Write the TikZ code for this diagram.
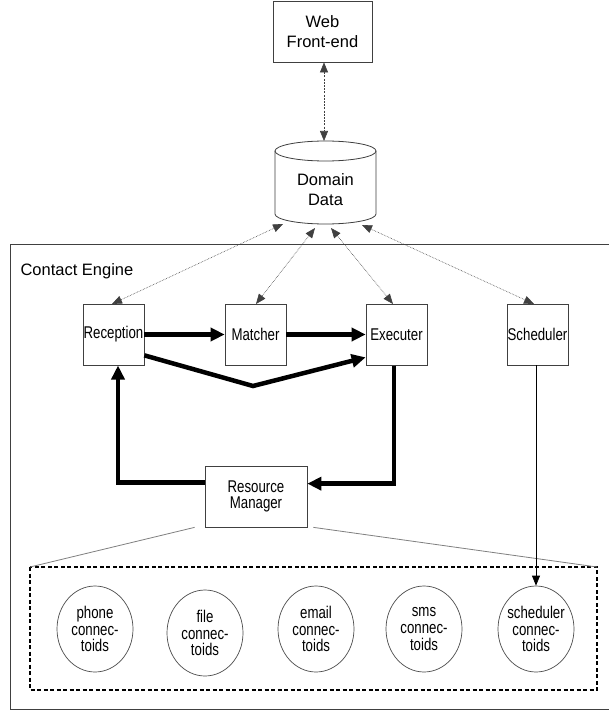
\documentclass[tikz,border=0pt]{standalone}
\usepackage{fontspec}
\setmainfont{Liberation Sans}
\newfontfamily\narrowfont[FakeStretch=0.78]{Liberation Sans}
\usetikzlibrary{arrows.meta,shapes.geometric,calc}
\begin{document}
\begin{tikzpicture}[x=1pt,y=-1pt,
  bigfont/.style={font=\fontsize{16.5}{20}\selectfont},
  smallfont/.style={font=\narrowfont\fontsize{17}{16.8}\selectfont},
  box/.style={draw=black!75, line width=0.7pt, minimum width=61pt, minimum height=61pt, inner sep=0pt, smallfont},
  conn/.style={draw=black!70, line width=0.7pt, ellipse, minimum width=76pt, minimum height=86pt, inner sep=0pt},
  conntext/.style={align=center, inner sep=0pt, smallfont},
  dotarrow/.style={black!75, line width=0.6pt, densely dotted, {Triangle[length=10pt,width=8pt]}-{Triangle[length=10pt,width=8pt]}},
  flow/.style={line width=4.5pt, -{Triangle[length=14pt,width=13pt]}},
  thinarrow/.style={line width=0.7pt, -{Triangle[length=10pt,width=8pt]}},
  greyline/.style={gray, line width=0.8pt},
  groupbox/.style={line width=1.6pt, dash pattern=on 4pt off 2.5pt}
]
\useasboundingbox (0,0) rectangle (608,714);
\fill[white] (0,0) rectangle (608,714);

% outer Contact Engine frame
\draw[black!75, line width=1pt] (10,244) rectangle (614,709);
\node[bigfont, anchor=west] (ce) at (17,271) {Contact Engine};

% Web front-end
\node[draw=black!75, line width=0.8pt, minimum width=99pt, minimum height=61pt, inner sep=0pt, align=center, bigfont] (web) at (322.5,31.5) {Web\\Front-end};

% Domain data cylinder
\draw[black!75, line width=0.8pt, fill=white] (275,151) -- (275,214) arc[start angle=180, end angle=0, x radius=50.5, y radius=10] -- (376,151);
\draw[black!75, line width=0.8pt] (325.5,151) ellipse[x radius=50.5, y radius=10];
\node[bigfont, align=center] (dd) at (325.5,190) {Domain\\Data};
\coordinate (ddtop) at (324,141);
\coordinate (db1) at (283,224);
\coordinate (db2) at (315,228);
\coordinate (db3) at (331,228);
\coordinate (db4) at (362,225);

% components
\node[box] (rec) at (113.5,334.5) {Reception};
\node[box] (mat) at (255.5,334.5) {Matcher};
\node[box] (exe) at (396.5,334.5) {Executer};
\node[box] (sch) at (537.5,334.5) {Scheduler};
\node[box, minimum width=102pt, align=center] (rm) at (256,496.5) {Resource\\Manager};

% dotted links
\draw[dotarrow, dash pattern=on 2pt off 1.2pt] (web.south -| ddtop) -- (ddtop);
\coordinate (rt) at (112,304);
\coordinate (mt) at (256,304);
\coordinate (et) at (393,304);
\coordinate (st) at (534,304);
\draw[dotarrow] (db1) -- (rt);
\draw[dotarrow] (db2) -- (mt);
\draw[dotarrow] (db3) -- (et);
\draw[dotarrow] (db4) -- (st);

% main flow
\draw[flow] (rec.east) -- (mat.west);
\draw[flow] (mat.east) -- (exe.west);
\coordinate (bend) at (253,386);
\draw[flow, line join=miter] ($(rec.south east)+(0,-10)$) -- (bend) -- ($(exe.south west)+(0,-8)$);
\coordinate (recin) at (118,365.5);
\coordinate (exout) at (394,365.5);
\draw[flow, line join=miter] ($(rm.north west)+(0,17)$) -| (recin);
\draw[flow, line join=miter] (exout) |- ($(rm.north east)+(0,18)$);

% connectoids
\draw[groupbox] (30,567) rectangle (597,690);
\node[conn] (phone) at (95,629) {};
\node[conn] (file) at (205,633) {};
\node[conn] (email) at (316,629) {};
\node[conn] (sms) at (424,629) {};
\node[conn] (schc) at (536,629) {};
\node[conntext] (phonet) at (phone) {phone\\connec-\\toids};
\node[conntext] (filet) at (file) {file\\connec-\\toids};
\node[conntext] (emailt) at (email) {email\\connec-\\toids};
\node[conntext] (smst) at (sms) {sms\\connec-\\toids};
\node[conntext] (schct) at (schc) {scheduler\\connec-\\toids};

\coordinate (gl) at (30,567);
\coordinate (gr) at (597,567);
\draw[greyline] ($(rm.south west)+(-10,0)$) -- (gl);
\draw[greyline] ($(rm.south east)+(6,0)$) -- (gr);

\draw[thinarrow] (sch.south -| schc.north) -- (schc.north);
\end{tikzpicture}
\end{document}
